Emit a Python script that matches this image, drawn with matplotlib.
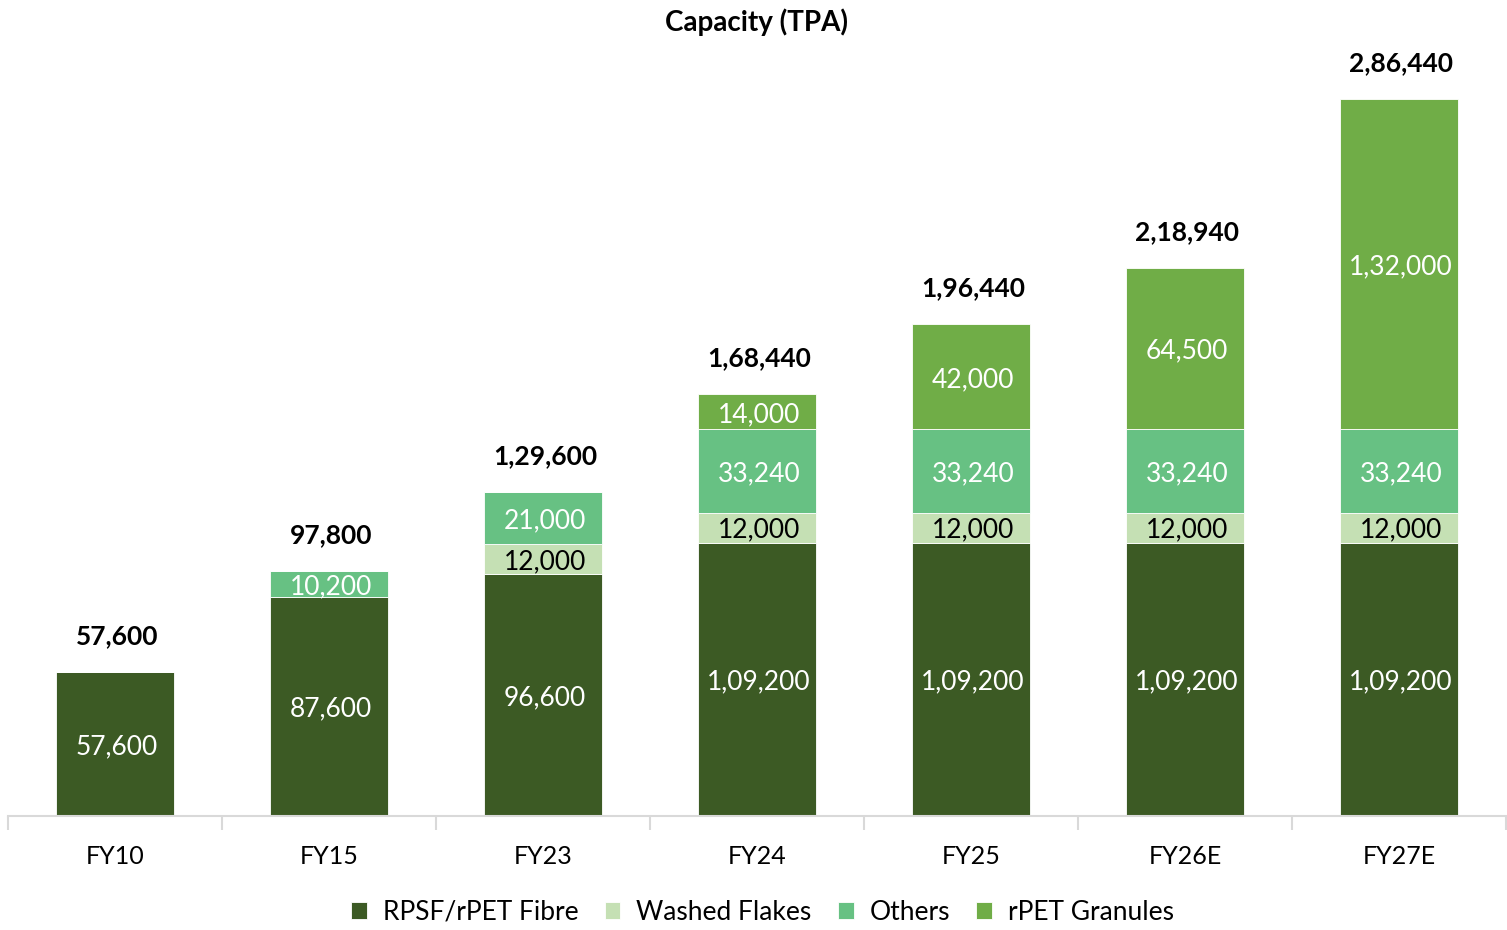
import matplotlib.pyplot as plt
import numpy as np

plt.rcParams['font.family'] = ['Lato', 'DejaVu Sans']

years = ['FY10', 'FY15', 'FY23', 'FY24', 'FY25', 'FY26E', 'FY27E']
fibre = [57600, 87600, 96600, 109200, 109200, 109200, 109200]
flakes = [0, 0, 12000, 12000, 12000, 12000, 12000]
others = [0, 10200, 21000, 33240, 33240, 33240, 33240]
granules = [0, 0, 0, 14000, 42000, 64500, 132000]

series = [
    ('RPSF/rPET Fibre', fibre, '#3C5A24', 'white'),
    ('Washed Flakes', flakes, '#C5E0B4', 'black'),
    ('Others', others, '#67C183', 'white'),
    ('rPET Granules', granules, '#70AD47', 'white'),
]


def indian(n):
    # lakh-style grouping: 1,09,200
    s = str(int(n))
    if len(s) <= 3:
        return s
    head, tail = s[:-3], s[-3:]
    parts = []
    while len(head) > 2:
        parts.insert(0, head[-2:])
        head = head[:-2]
    if head:
        parts.insert(0, head)
    return ','.join(parts) + ',' + tail


fig = plt.figure(figsize=(15.07, 9.3), dpi=100)
ax = fig.add_axes([8 / 1507, 1 - 816 / 930, 1498 / 1507, 776 / 930])

x = np.arange(len(years))
bottom = np.zeros(len(years))
for name, vals, color, tcol in series:
    vals = np.array(vals, dtype=float)
    ax.bar(x, vals, 0.55, bottom=bottom, color=color, label=name,
           edgecolor='white', linewidth=0.6)
    for xi, b, v in zip(x, bottom, vals):
        if v > 0:
            ax.text(xi + 0.01, b + v / 2, indian(v), ha='center',
                    va='center_baseline', color=tcol, fontsize=19)
    bottom += vals

for xi, tot in zip(x, bottom):
    ax.text(xi + 0.01, tot + 9500, indian(tot), ha='center', va='bottom',
            fontsize=19, fontweight='bold')

ax.set_xlim(-0.5, len(years) - 0.5)
ax.set_ylim(0, 286440 * 776 / 717)
ax.set_yticks([])
for s in ['top', 'right', 'left']:
    ax.spines[s].set_visible(False)
ax.spines['bottom'].set_color('#D9D9D9')
ax.spines['bottom'].set_linewidth(1.5)

ax.set_xticks(np.arange(-0.5, len(years)), minor=False)
ax.set_xticklabels([])
ax.tick_params(axis='x', which='major', length=10, color='#D9D9D9', width=1.5)
ax.set_xticks(x, minor=True)
ax.set_xticklabels(years, minor=True, fontsize=18)
ax.tick_params(axis='x', which='minor', length=0, pad=21)

fig.text(0.502, 1 - 22 / 930, 'Capacity (TPA)', ha='center', va='center',
         fontsize=20, fontweight='bold')

fig.legend(loc='center', bbox_to_anchor=(0.506, 1 - 912 / 930), ncol=4,
           frameon=False, fontsize=19, handlelength=0.6, handleheight=0.6,
           handletextpad=0.6, columnspacing=1.0)

fig.savefig('out.png', dpi=100)
